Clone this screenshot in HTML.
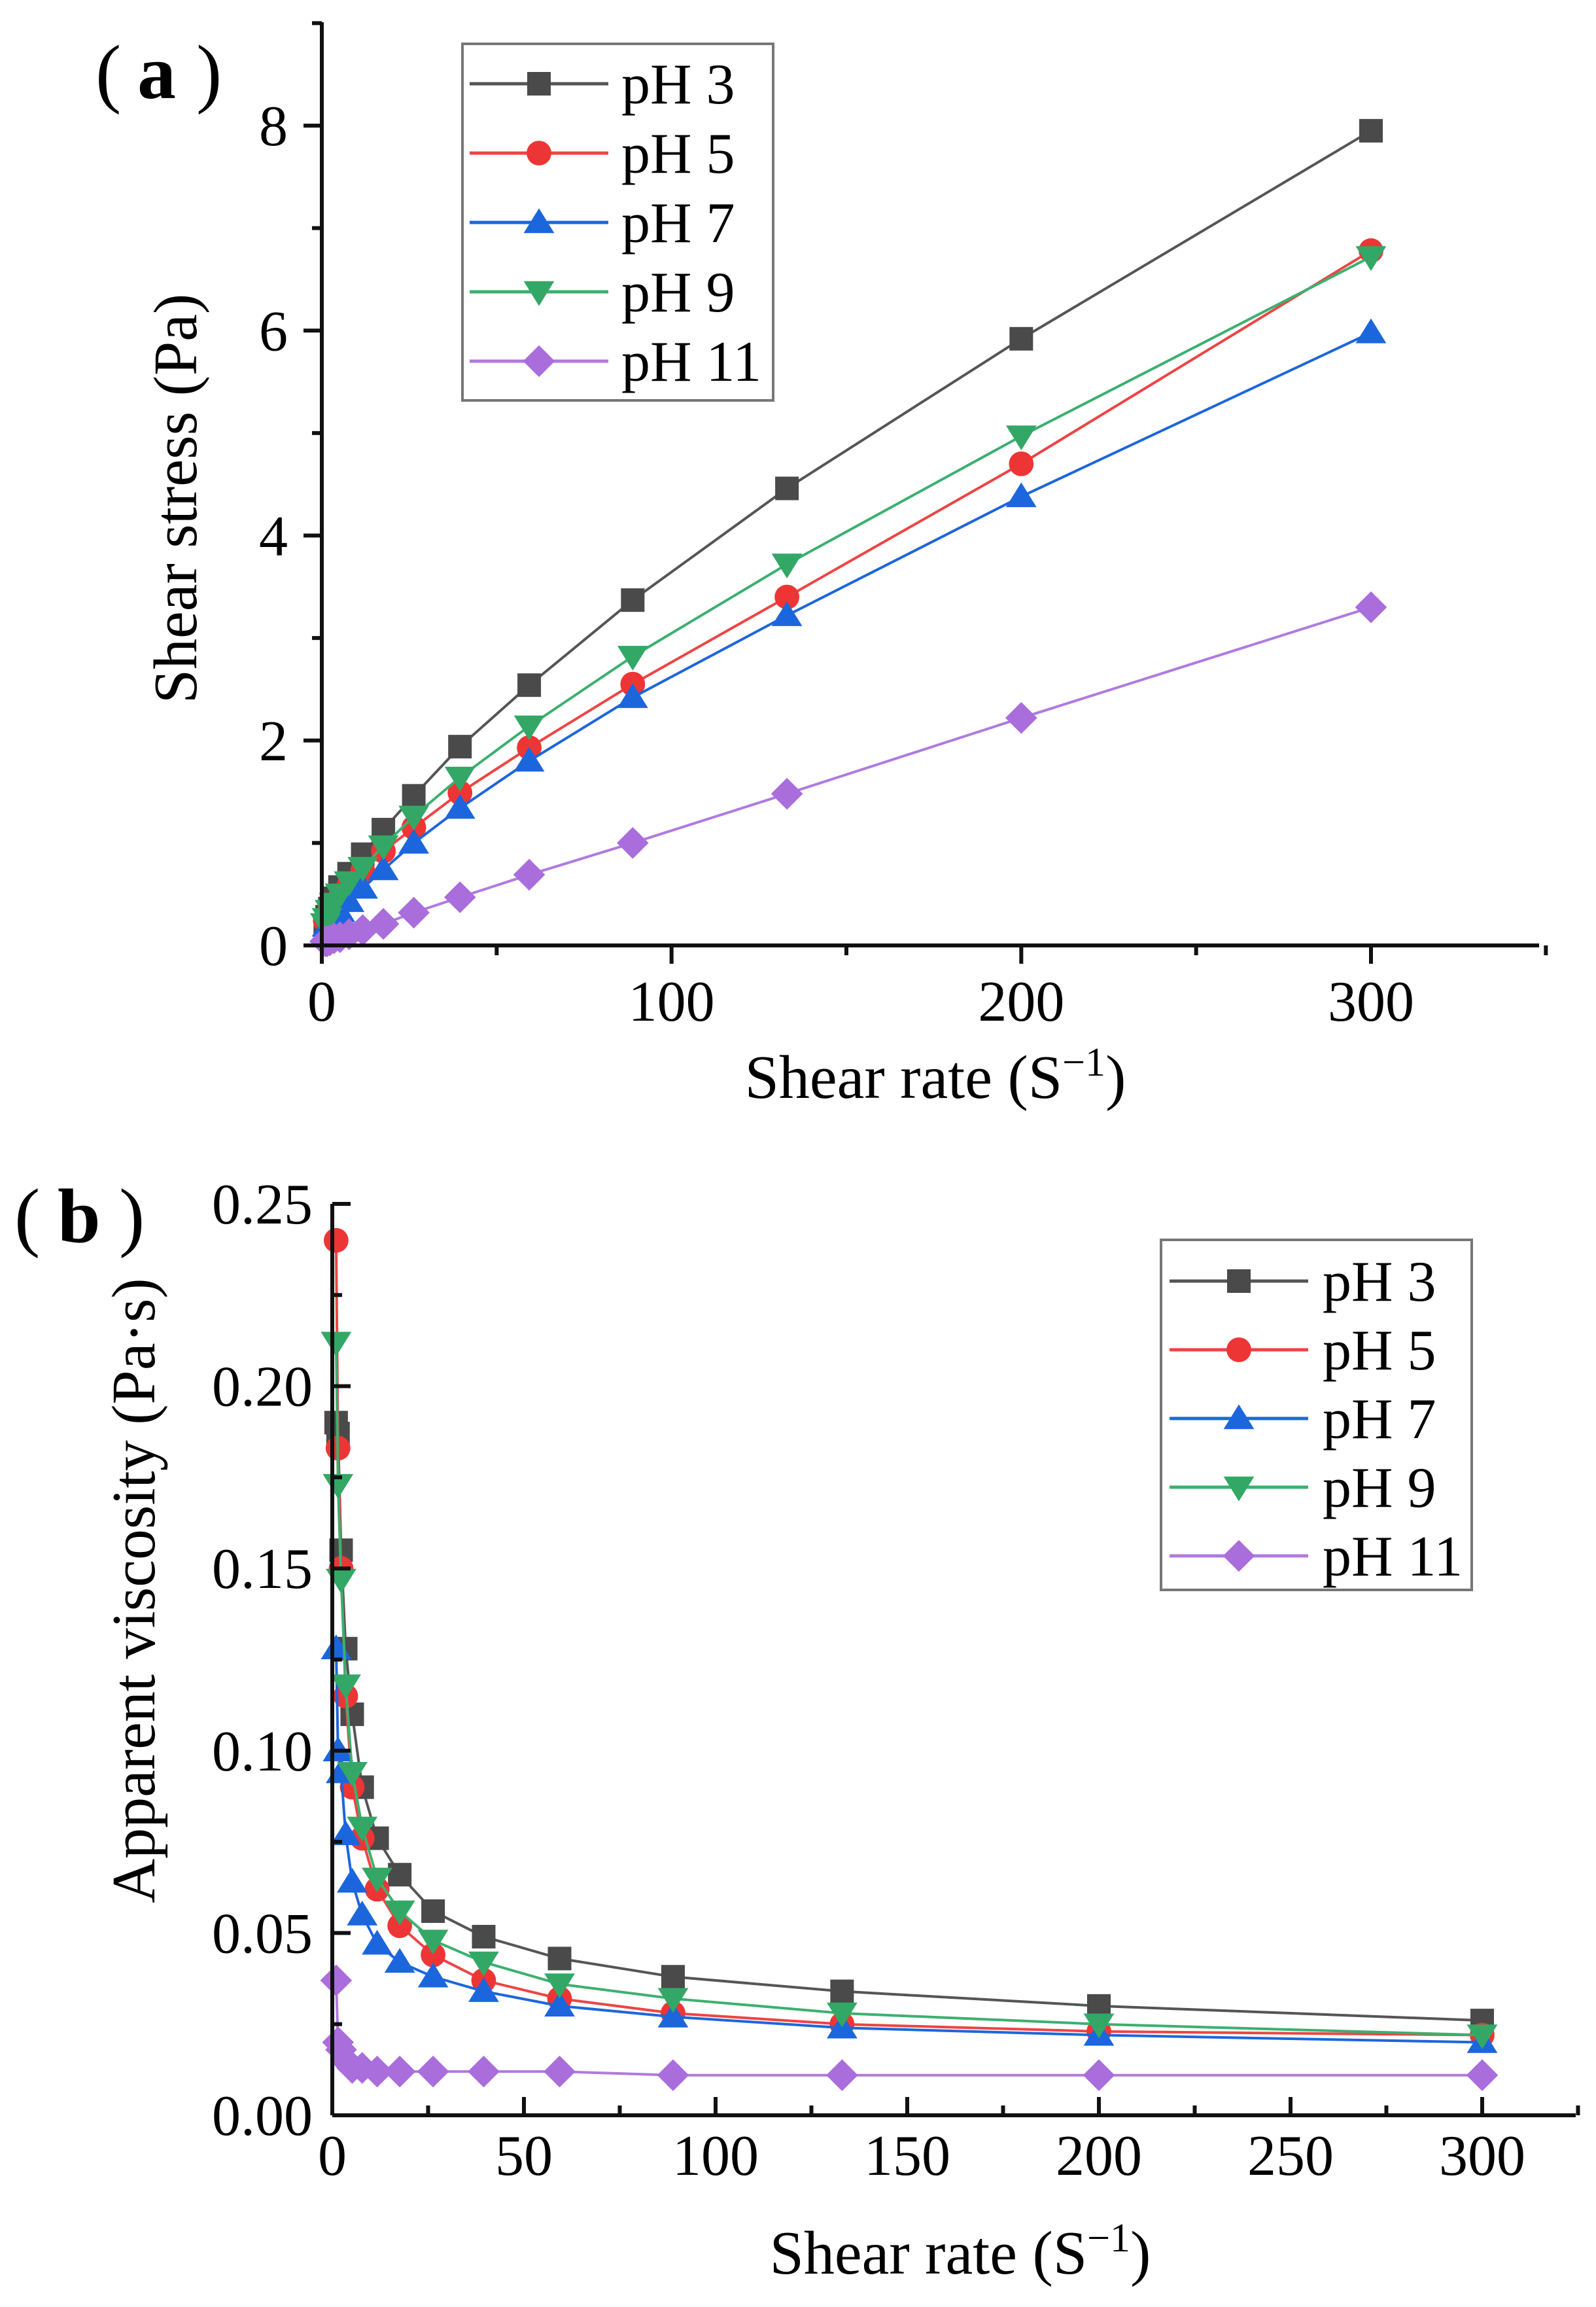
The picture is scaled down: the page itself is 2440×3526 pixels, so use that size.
<!DOCTYPE html>
<html><head><meta charset="utf-8"><style>
html,body{margin:0;padding:0;background:#fff;}
svg{display:block;font-family:"Liberation Serif","Noto Serif CJK SC",serif;}
</style></head><body>
<svg id="fig" width="2440" height="3526" viewBox="0 0 2440 3526" xmlns="http://www.w3.org/2000/svg">
<rect width="2440" height="3526" fill="#fff"/>
<g id="pa"></g>
<g id="pb"></g>
<g font-size="118">
<text x="146" y="150">(</text><text x="210" y="150" font-weight="bold">a</text><text x="300" y="150">)</text>
</g>
<g font-size="118">
<text x="22" y="1898">(</text><text x="88" y="1898" font-weight="bold">b</text><text x="182" y="1898">)</text>
</g>
<text transform="translate(300,762) rotate(-90)" text-anchor="middle" font-size="94">Shear stress (Pa)</text>
<text x="1430" y="1678" text-anchor="middle" font-size="94">Shear rate (S<tspan dy="-34" font-size="62">−1</tspan><tspan dy="34">)</tspan></text>
<text transform="translate(236,2431) rotate(-90)" text-anchor="middle" font-size="94">Apparent viscosity (Pa·s)</text>
<text x="1468" y="3475" text-anchor="middle" font-size="94">Shear rate (S<tspan dy="-34" font-size="62">−1</tspan><tspan dy="34">)</tspan></text>
</svg>
<script>
const rates = [1.0,1.5,2.3,3.5,5.2,7.8,11.7,17.6,26.3,39.5,59.3,88.9,133,200,300];
const seriesNames = ["pH 3","pH 5","pH 7","pH 9","pH 11"];
const stressPH3  = [0.19,0.28,0.36,0.46,0.57,0.70,0.89,1.13,1.46,1.94,2.54,3.37,4.46,5.92,7.95];
const stressPH5  = [0.24,0.27,0.34,0.40,0.47,0.59,0.73,0.92,1.15,1.49,1.93,2.55,3.40,4.70,6.78];
const stressPH7  = [0.13,0.19,0.23,0.27,0.33,0.43,0.56,0.74,1.00,1.34,1.80,2.42,3.22,4.38,5.98];
const stressPH9  = [0.21,0.26,0.34,0.41,0.50,0.62,0.76,0.97,1.26,1.64,2.14,2.82,3.72,4.97,6.72];
const stressPH11 = [0.04,0.04,0.05,0.07,0.08,0.11,0.15,0.21,0.32,0.47,0.69,1.00,1.48,2.22,3.30];
const viscPH3  = [0.190,0.187,0.155,0.128,0.110,0.090,0.076,0.066,0.056,0.049,0.043,0.038,0.034,0.030,0.026];
const viscPH5  = [0.240,0.183,0.150,0.115,0.090,0.076,0.062,0.052,0.044,0.037,0.032,0.028,0.025,0.023,0.022];
const viscPH7  = [0.128,0.100,0.094,0.077,0.064,0.055,0.047,0.042,0.038,0.034,0.030,0.027,0.024,0.022,0.020];
const viscPH9  = [0.212,0.173,0.147,0.118,0.094,0.079,0.065,0.056,0.048,0.042,0.036,0.032,0.028,0.025,0.022];
const viscPH11 = [0.037,0.020,0.018,0.015,0.013,0.013,0.012,0.012,0.012,0.012,0.012,0.011,0.011,0.011,0.011];
const aXTicks = [0,100,200,300];
const aYTicks = [0,2,4,6,8];
const bXTicks = [0,50,100,150,200,250,300];
const bYTicks = [0,0.05,0.10,0.15,0.20,0.25];

const NS="http://www.w3.org/2000/svg";
const colors=["#4a4a4a","#ee3535","#1c66dd","#33a866","#aa6ddc"];
const lineColors=["#555","#ee4444","#1c66dd","#3bb070","#b07ae0"];
const shapes=["square","circle","up","down","diamond"];
function mk(tag,attrs,parent){const e=document.createElementNS(NS,tag);for(const k in attrs)e.setAttribute(k,attrs[k]);parent.appendChild(e);return e;}
function marker(shape,x,y,c,g,s){
  let e;
  if(shape==="square") e=mk("rect",{x:x-s,y:y-s,width:2*s,height:2*s,fill:c},g);
  else if(shape==="circle") e=mk("circle",{cx:x,cy:y,r:s*1.05,fill:c},g);
  else if(shape==="up") e=mk("polygon",{points:`${x},${y-s*1.2} ${x-s*1.3},${y+s*0.9} ${x+s*1.3},${y+s*0.9}`,fill:c},g);
  else if(shape==="down") e=mk("polygon",{points:`${x},${y+s*1.2} ${x-s*1.3},${y-s*0.9} ${x+s*1.3},${y-s*0.9}`,fill:c},g);
  else e=mk("polygon",{points:`${x},${y-s*1.35} ${x+s*1.35},${y} ${x},${y+s*1.35} ${x-s*1.35},${y}`,fill:c},g);
  return e;
}
function panel(gid,cfg){
  const g=document.getElementById(gid);
  const sx=v=>cfg.x0+(v-cfg.xmin)/(cfg.xmax-cfg.xmin)*(cfg.x1-cfg.x0);
  const sy=v=>cfg.y0-(v-cfg.ymin)/(cfg.ymax-cfg.ymin)*(cfg.y0-cfg.y1);
  cfg.series.forEach((vals,i)=>{
    const sg=mk("g",{},g);
    
    
    const pts=rates.map((r,j)=>sx(r)+","+sy(vals[j])).join(" ");
    const pl=mk("polyline",{points:pts,fill:"none",stroke:lineColors[i],"stroke-width":4},sg);
    
    
    rates.forEach((r,j)=>{
      const m=marker(shapes[i],sx(r),sy(vals[j]),colors[i],sg,18);
      
      
    });
  });
  const ax=mk("g",{stroke:"#111","stroke-width":6,fill:"none"},g);
  
  
  mk("line",{x1:cfg.x0,y1:cfg.y0,x2:cfg.xend,y2:cfg.y0},ax);
  mk("line",{x1:cfg.x0,y1:cfg.y0,x2:cfg.x0,y2:cfg.ytop},ax);
  const d=cfg.tickDir;
  cfg.xticks.forEach(v=>{mk("line",{x1:sx(v),y1:cfg.y0,x2:sx(v),y2:cfg.y0-d*28},ax);});
  cfg.xminor.forEach(v=>{mk("line",{x1:sx(v),y1:cfg.y0,x2:sx(v),y2:cfg.y0-d*15},ax);});
  cfg.yticks.forEach(v=>{mk("line",{x1:cfg.x0,y1:sy(v),x2:cfg.x0+d*28,y2:sy(v)},ax);});
  cfg.yminor.forEach(v=>{mk("line",{x1:cfg.x0,y1:sy(v),x2:cfg.x0+d*15,y2:sy(v)},ax);});
  cfg.xticks.forEach(v=>{
    const t=mk("text",{x:sx(v),y:cfg.xlabY,"text-anchor":"middle","font-size":88},g);
    t.textContent=String(v);
    
    
  });
  cfg.yticks.forEach(v=>{
    const t=mk("text",{x:cfg.ylabX,y:sy(v)+30,"text-anchor":"end","font-size":88},g);
    t.textContent=cfg.yfmt(v);
    
    
  });
  const L=cfg.legend;
  const lg=mk("g",{},g);
  
  
  mk("rect",{x:L.x,y:L.y,width:L.w,height:L.h,fill:"#fff",stroke:"#777","stroke-width":4},lg);
  seriesNames.forEach((n,i)=>{
    const ey=L.row0+i*L.step;
    const eg=mk("g",{},lg);
    
    
    mk("line",{x1:L.lx1,y1:ey,x2:L.lx2,y2:ey,stroke:lineColors[i],"stroke-width":5},eg);
    marker(shapes[i],(L.lx1+L.lx2)/2,ey,colors[i],eg,18);
    const t=mk("text",{x:L.tx,y:ey+30,"font-size":88},eg);
    t.textContent=n;
  });
}
panel("pa",{x0:492,x1:2096,xmin:0,xmax:300,y0:1445,y1:192,ymin:0,ymax:8,xend:2353,ytop:34,
  tickDir:-1,xticks:aXTicks,xminor:[50,150,250,350],yticks:aYTicks,yminor:[1,3,5,7,9],
  xlabY:1560,ylabX:440,yfmt:v=>String(v),
  series:[stressPH3,stressPH5,stressPH7,stressPH9,stressPH11],
  legend:{x:707,y:67,w:475,h:545,row0:128,step:106,lx1:718,lx2:930,tx:950}});
panel("pb",{x0:508,x1:2266,xmin:0,xmax:300,y0:3233,y1:1840,ymin:0,ymax:0.25,xend:2409,ytop:1840,
  tickDir:1,xticks:bXTicks,xminor:[25,75,125,175,225,275,325],yticks:bYTicks,yminor:[0.025,0.075,0.125,0.175,0.225],
  xlabY:3324,ylabX:478,yfmt:v=>v.toFixed(2),
  series:[viscPH3,viscPH5,viscPH7,viscPH9,viscPH11],
  legend:{x:1775,y:1895,w:475,h:535,row0:1958,step:105,lx1:1788,lx2:2000,tx:2022}});
</script>
</body></html>
